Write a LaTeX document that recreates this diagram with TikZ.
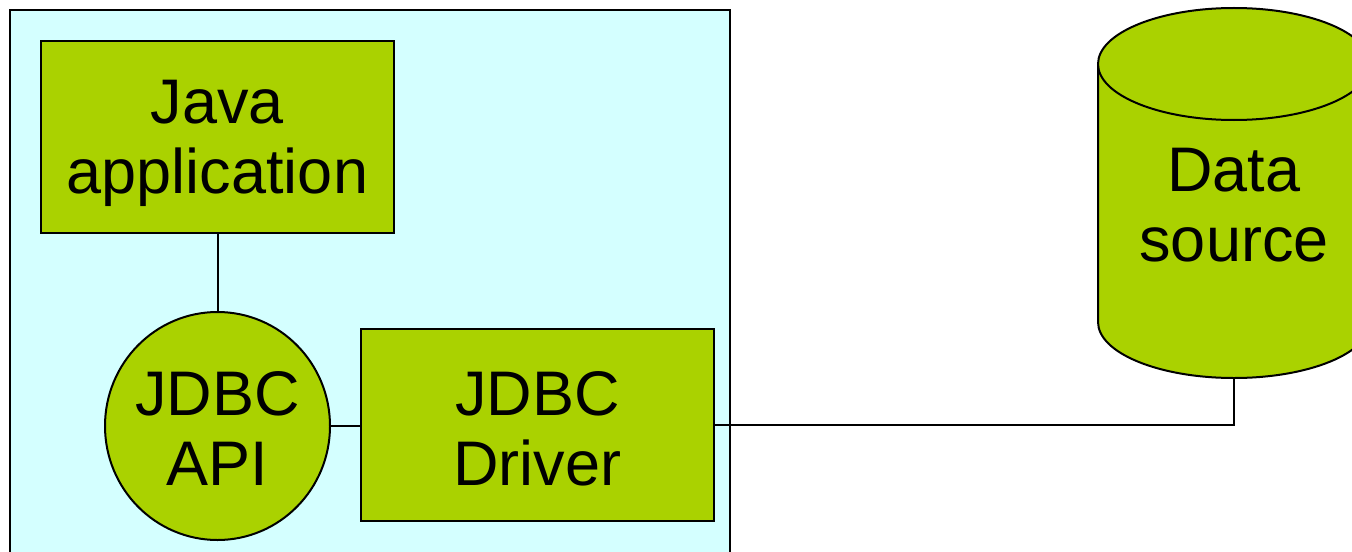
\documentclass[tikz,border=0pt]{standalone}
\usepackage{fontspec}
\setmainfont{Liberation Sans}
\usetikzlibrary{shapes.geometric}
\definecolor{cyanbg}{HTML}{D4FFFF}
\definecolor{grn}{HTML}{AAD200}
\begin{document}
\begin{tikzpicture}[x=0.5pt,y=-0.5pt,line width=1pt,
  lbl/.style={font=\fontsize{31.5}{35}\selectfont,align=center,inner sep=0pt},
  gbox/.style={draw=black,fill=grn,rectangle,inner sep=0pt,minimum width=176.5pt,minimum height=96pt},
  gell/.style={draw=black,fill=grn,ellipse,inner sep=0pt,minimum width=112.5pt,minimum height=114pt},
  conn/.style={draw=black,line width=1pt}]
\useasboundingbox (0,0) rectangle (1352,551);
\clip (0,0) rectangle (1352,551);
\fill[white] (0,0) rectangle (1352,551);
% client container
\draw[fill=cyanbg] (10,10) rectangle (730,570);
% nodes
\node[gbox] (java) at (217.5,137) {};
\node[lbl] (javat) at (217.5,143) {Java\\application};
\node[gell] (api) at (217.5,426) {};
\node[lbl] (apit) at (217.5,428) {JDBC\\API};
\node[gbox] (drv) at (537.5,425) {};
\node[lbl] (drvt) at (537.5,429) {JDBC\\Driver};
% cylinder
\filldraw[fill=grn,draw=black] (1098,64) -- (1098,322) arc[start angle=180,end angle=0,x radius=136,y radius=56] -- (1370,64) -- cycle;
\filldraw[fill=grn,draw=black] (1234,64) ellipse[x radius=136,y radius=56];
\node[lbl] (ds) at (1234,205) {Data\\source};
\coordinate (dsb) at (1234,378);
% connectors
\draw[conn] (java.south) -- (api.north);
\draw[conn] (api.east) -- (api.east -| drv.west);
\draw[conn] (drv.east) -- (drv.east -| dsb) -- (dsb);
\end{tikzpicture}
\end{document}
